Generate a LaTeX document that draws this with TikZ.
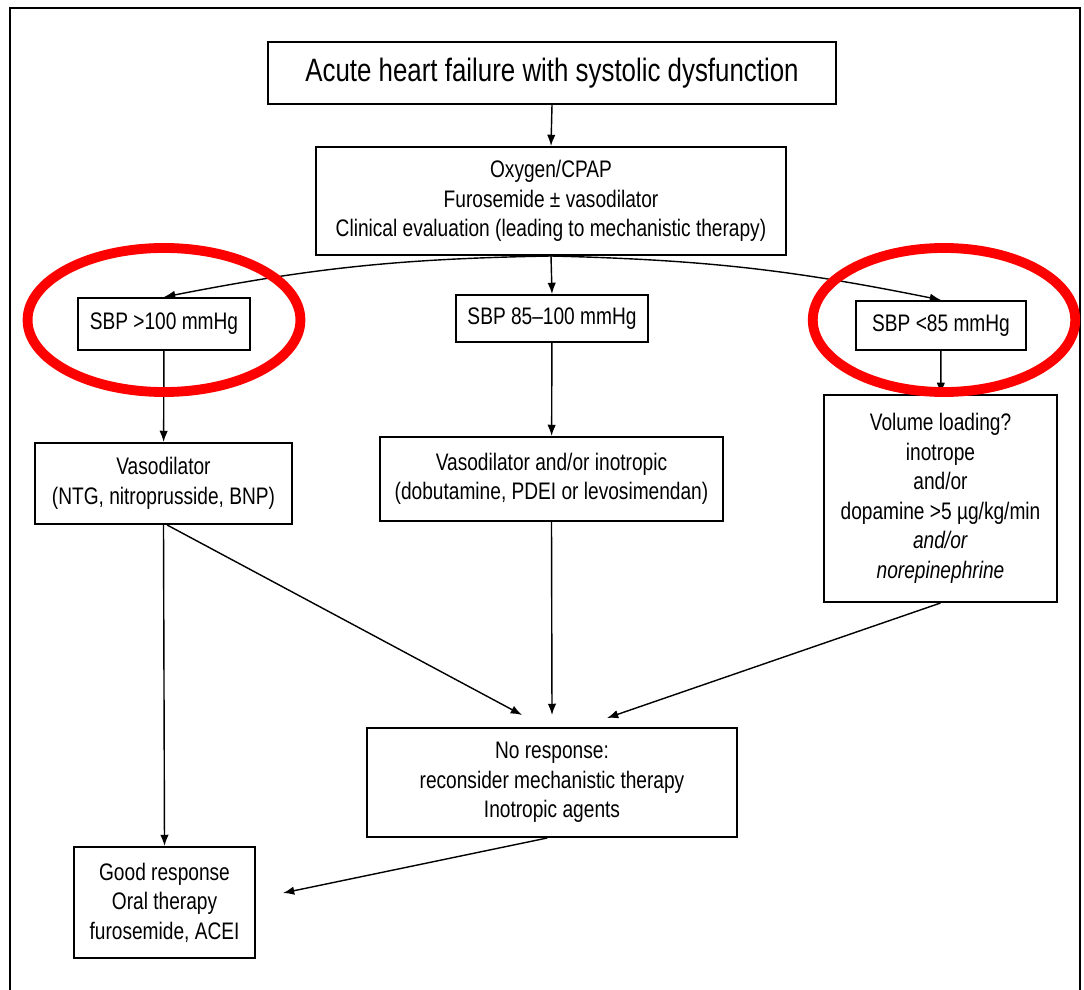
\documentclass[tikz,border=0pt]{standalone}
\usepackage{fontspec}
\setmainfont{Liberation Sans}[FakeStretch=0.8]
\usetikzlibrary{arrows.meta, positioning}
\definecolor{markred}{RGB}{255,0,0}

\begin{document}
\begin{tikzpicture}[
  x=0.025cm, y=-0.025cm,
  box/.style={draw, line width=1.4pt, align=center, inner sep=0pt,
    font=\fontsize{17}{21}\selectfont},
  arr/.style={-{Latex[length=8pt,width=6pt]}, line width=1pt},
  ring/.style={draw=markred, line width=7pt}
]
  \useasboundingbox (0,0) rectangle (1084,990);
  % outer frame, open at the bottom
  \draw[line width=1.4pt] (10,990) -- (10,8) -- (1080,8) -- (1080,990);

  % Boxes
  \node[box, minimum width=14.2cm, minimum height=1.55cm,
        font=\fontsize{23}{27}\selectfont] (title) at (552,73)
       {Acute heart failure with systolic dysfunction};
  \node[box, minimum width=11.75cm, minimum height=2.7cm] (care) at (551,201)
       {Oxygen/CPAP\\Furosemide ± vasodilator\\Clinical evaluation (leading to mechanistic therapy)};

  \node[box, minimum width=4.3cm, minimum height=1.3cm]    (sbphigh) at (164,324)   {SBP >100 mmHg};
  \node[box, minimum width=4.8cm, minimum height=1.175cm]  (sbpmid)  at (552,318.5) {SBP 85–100 mmHg};
  \node[box, minimum width=4.25cm, minimum height=1.225cm] (sbplow)  at (941,325.5) {SBP <85 mmHg};

  \node[box, minimum width=6.425cm, minimum height=2.025cm] (vaso) at (163.5,483.5)
       {Vasodilator\\(NTG, nitroprusside, BNP)};
  \node[box, minimum width=8.575cm, minimum height=2.1cm] (vasoino) at (551.5,479)
       {Vasodilator and/or inotropic\\(dobutamine, PDEI or levosimendan)};
  \node[box, minimum width=5.825cm, minimum height=5.175cm] (volume) at (940.5,498.5)
       {Volume loading?\\inotrope\\and/or\\dopamine >5 µg/kg/min\\\textit{and/or}\\\textit{norepinephrine}};

  \node[box, minimum width=9.25cm, minimum height=2.725cm] (noresp) at (552,782.5)
       {No response:\\reconsider mechanistic therapy\\Inotropic agents};
  \node[box, minimum width=4.525cm, minimum height=2.775cm] (goodresp) at (164.5,902.5)
       {Good response\\Oral therapy\\furosemide, ACEI};

  % free arrow ends
  \coordinate (inL)  at (522,715);
  \coordinate (inM)  at (552,715);
  \coordinate (inR)  at (607,718);
  \coordinate (outG) at (283,893);

  % Connectors
  \draw[arr] (title.south) -- (care.north);
  \draw[arr] (care.south) to[bend right=5] (sbphigh.north);
  \draw[arr] (care.south) -- (sbpmid.north);
  \draw[arr] (care.south) to[bend left=5] (sbplow.north);
  \draw[arr] (sbphigh) -- (vaso);  \draw[arr] (sbpmid) -- (vasoino);
  \draw[arr] (sbplow) -- (volume);
  \draw[arr] (vaso.south) -- (goodresp.north);
  \draw[arr] (vaso.-85) -- (inL);
  \draw[arr] (vasoino.south) -- (inM);
  \draw[arr] (volume.south) -- (inR);
  \draw[arr] (noresp.-95) -- (outG);

  % Red highlight rings
  \draw[ring] (164,320) ellipse [x radius=3.41cm, y radius=1.8cm];
  \draw[ring] (944,320) ellipse [x radius=3.28cm, y radius=1.8cm];

\end{tikzpicture}
\end{document}
